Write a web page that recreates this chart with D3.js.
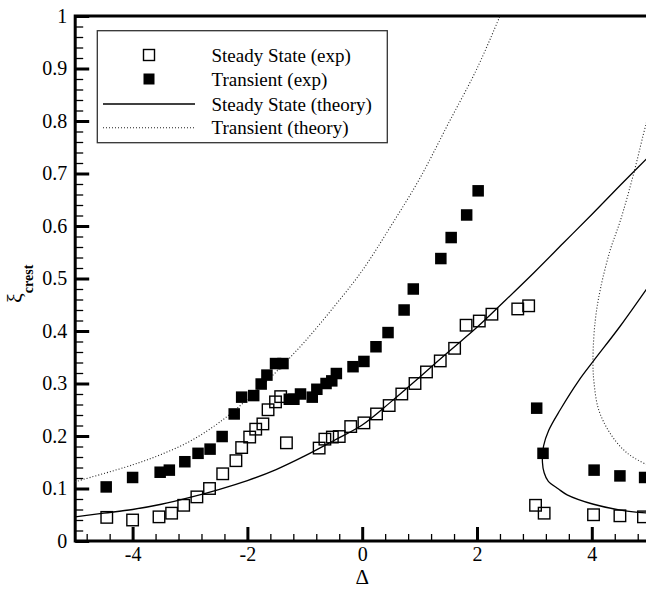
<!DOCTYPE html>
<html><head><meta charset="utf-8">
<script src="https://cdn.jsdelivr.net/npm/d3@7/dist/d3.min.js"></script>
<style>
body{margin:0;background:#fff}
svg{display:block}
text{font-family:"Liberation Serif","Times New Roman",Times,serif;fill:#000}
</style>
</head><body>
<svg id="chart" width="646" height="589"></svg>
<script>
// ---------- data ----------
const xMajorTicks = [-4, -2, 0, 2, 4];
const xTickLabels = ["-4", "-2", "0", "2", "4"];
const yMajorTicks = [0, 0.1, 0.2, 0.3, 0.4, 0.5, 0.6, 0.7, 0.8, 0.9, 1];
const yTickLabels = ["0", "0.1", "0.2", "0.3", "0.4", "0.5", "0.6", "0.7", "0.8", "0.9", "1"];

const seriesNames = ["Steady State (exp)", "Transient (exp)", "Steady State (theory)", "Transient (theory)"];

// Steady State (exp) - open squares
const steadyExpX = [-4.45, -4.0, -3.54, -3.32, -3.11, -2.88, -2.66, -2.43, -2.20, -2.10, -1.96, -1.855, -1.73, -1.64, -1.51, -1.42, -1.32,
  -0.75, -0.65, -0.52, -0.40, -0.20, 0.03, 0.25, 0.47, 0.69, 0.92, 1.12, 1.36, 1.61, 1.81, 2.04, 2.26, 2.71, 2.90,
  3.02, 3.17, 4.03, 4.49, 4.90];
const steadyExpY = [0.045, 0.040, 0.046, 0.053, 0.068, 0.084, 0.100, 0.128, 0.153, 0.178, 0.198, 0.213, 0.223, 0.250, 0.265, 0.275, 0.187,
  0.177, 0.194, 0.198, 0.199, 0.218, 0.225, 0.242, 0.258, 0.280, 0.300, 0.322, 0.343, 0.367, 0.411, 0.419, 0.432, 0.442, 0.448,
  0.068, 0.053, 0.050, 0.048, 0.046];

// Transient (exp) - filled squares
const transExpX = [-4.46, -4.0, -3.52, -3.36, -3.09, -2.86, -2.65, -2.44, -2.23, -2.10, -1.89, -1.76, -1.66, -1.51, -1.38,
  -1.27, -1.19, -1.075, -0.87, -0.79, -0.63, -0.53, -0.45, -0.16, 0.03, 0.24, 0.45, 0.73, 0.89, 1.37, 1.55, 1.82, 2.02,
  3.04, 3.15, 4.04, 4.49, 4.92];
const transExpY = [0.103, 0.121, 0.131, 0.135, 0.151, 0.167, 0.175, 0.199, 0.242, 0.274, 0.277, 0.299, 0.316, 0.338, 0.338,
  0.270, 0.270, 0.280, 0.274, 0.289, 0.300, 0.305, 0.319, 0.332, 0.342, 0.370, 0.397, 0.440, 0.480, 0.538, 0.578, 0.621, 0.667,
  0.253, 0.167, 0.135, 0.124, 0.121];

// Steady State (theory) - upper branch
const steadyThX = [-5.0, -4.5, -4.0, -3.5, -3.0, -2.5, -2.0, -1.5, -1.0, -0.5, 0.0, 0.5, 1.0, 1.5, 2.0, 2.5, 3.0, 3.5, 4.0, 4.5, 5.0];
const steadyThY = [0.046, 0.053, 0.060, 0.070, 0.083, 0.098, 0.115, 0.136, 0.162, 0.191, 0.221, 0.265, 0.312, 0.360, 0.407, 0.459, 0.512, 0.567, 0.622, 0.678, 0.733];
// Steady State (theory) - folded branch (ordered along the curve)
const steadyFoldX = [5.0, 4.5, 4.03, 3.77, 3.45, 3.25, 3.16, 3.14, 3.17, 3.24, 3.42, 3.57, 4.03, 4.5, 5.0];
const steadyFoldY = [0.487, 0.410, 0.343, 0.305, 0.250, 0.211, 0.181, 0.150, 0.130, 0.114, 0.099, 0.088, 0.070, 0.059, 0.053];

// Transient (theory) - left branch
const transThX = [-5.0, -4.0, -3.5, -3.0, -2.5, -2.0, -1.5, -1.0, -0.5, 0.0, 0.5, 1.0, 1.5, 2.0, 2.4];
const transThY = [0.113, 0.145, 0.165, 0.190, 0.225, 0.270, 0.322, 0.380, 0.445, 0.515, 0.600, 0.690, 0.795, 0.900, 1.0];
// Transient (theory) - folded branch (ordered along the curve)
const transFoldX = [5.05, 4.95, 4.73, 4.50, 4.32, 4.15, 4.06, 4.02, 4.04, 4.12, 4.32, 4.61, 4.95, 5.05];
const transFoldY = [0.830, 0.796, 0.700, 0.611, 0.554, 0.480, 0.420, 0.345, 0.300, 0.250, 0.205, 0.168, 0.146, 0.142];

// ---------- layout ----------
const svg = d3.select("#chart");
const L = 75.2, R = 649.2, T = 16, B = 541;
const x = d3.scaleLinear().domain([-5, 5]).range([L, R]);
const y = d3.scaleLinear().domain([0, 1]).range([B, T]);

svg.append("defs").append("clipPath").attr("id", "plotclip")
  .append("rect").attr("x", L).attr("y", T).attr("width", R - L).attr("height", B - T);

// minor ticks
const xMinor = d3.range(-4.8, 5.0, 0.4).filter(v => Math.abs(v / 2 - Math.round(v / 2)) > 0.01);
const yMinor = d3.range(0.02, 1.0, 0.02).filter(v => Math.abs(v * 10 - Math.round(v * 10)) > 0.01);

const gxMinor = svg.append("g").attr("transform", `translate(0,${B})`)
  .call(d3.axisBottom(x).tickValues(xMinor).tickSize(-7).tickFormat(""));
const gyMinor = svg.append("g").attr("transform", `translate(${L},0)`)
  .call(d3.axisLeft(y).tickValues(yMinor).tickSize(-8).tickFormat(""));
[gxMinor, gyMinor].forEach(g => {
  g.select(".domain").remove();
  g.selectAll(".tick line").attr("stroke", "#000").attr("stroke-width", 1.3);
});

const gx = svg.append("g").attr("transform", `translate(0,${B})`)
  .call(d3.axisBottom(x).tickValues(xMajorTicks).tickSize(-14).tickPadding(6)
    .tickFormat((d, i) => xTickLabels[i]));
const gy = svg.append("g").attr("transform", `translate(${L},0)`)
  .call(d3.axisLeft(y).tickValues(yMajorTicks).tickSize(-14).tickPadding(8)
    .tickFormat((d, i) => yTickLabels[i]));
[gx, gy].forEach(g => {
  g.select(".domain").remove();
  g.selectAll(".tick line").attr("stroke", "#000").attr("stroke-width", 3);
  g.selectAll(".tick text").attr("font-family", "Liberation Serif, Times New Roman, serif")
    .attr("font-size", 20).attr("fill", "#000");
});

// frame
svg.append("rect").attr("x", L).attr("y", T).attr("width", R - L).attr("height", B - T)
  .attr("fill", "none").attr("stroke", "#000").attr("stroke-width", 3);

// ---------- curves ----------
const line = d3.line().x(d => x(d[0])).y(d => y(d[1])).curve(d3.curveCatmullRom.alpha(0.5));
const plot = svg.append("g").attr("clip-path", "url(#plotclip)");
const zip = (a, b) => a.map((v, i) => [v, b[i]]);

[[steadyThX, steadyThY], [steadyFoldX, steadyFoldY]].forEach(([a, b]) => {
  plot.append("path").attr("d", line(zip(a, b))).attr("fill", "none")
    .attr("stroke", "#000").attr("stroke-width", 1.3);
});
[[transThX, transThY], [transFoldX, transFoldY]].forEach(([a, b]) => {
  plot.append("path").attr("d", line(zip(a, b))).attr("fill", "none")
    .attr("stroke", "#222").attr("stroke-width", 1.1).attr("stroke-dasharray", "1,2");
});

// ---------- markers ----------
const S = 11.5;
plot.append("g").selectAll("rect").data(zip(steadyExpX, steadyExpY)).join("rect")
  .attr("x", d => x(d[0]) - S / 2).attr("y", d => y(d[1]) - S / 2)
  .attr("width", S).attr("height", S)
  .attr("fill", "none").attr("stroke", "#000").attr("stroke-width", 1.4);
plot.append("g").selectAll("rect").data(zip(transExpX, transExpY)).join("rect")
  .attr("x", d => x(d[0]) - S / 2).attr("y", d => y(d[1]) - S / 2)
  .attr("width", S).attr("height", S)
  .attr("fill", "#000");

// ---------- legend ----------
const lg = svg.append("g");
lg.append("rect").attr("x", 97.3).attr("y", 30.7).attr("width", 290).attr("height", 112)
  .attr("fill", "#fff").attr("stroke", "#333").attr("stroke-width", 1.3);
const rowsY = [55, 79, 104, 127.7];
lg.append("rect").attr("x", 149 - 5.5).attr("y", rowsY[0] - 5.5).attr("width", 11).attr("height", 11)
  .attr("fill", "#fff").attr("stroke", "#000").attr("stroke-width", 1.4);
lg.append("rect").attr("x", 149 - 5.5).attr("y", rowsY[1] - 5.5).attr("width", 11).attr("height", 11)
  .attr("fill", "#000");
lg.append("line").attr("x1", 103).attr("x2", 195).attr("y1", rowsY[2]).attr("y2", rowsY[2])
  .attr("stroke", "#000").attr("stroke-width", 1.3);
lg.append("line").attr("x1", 103).attr("x2", 195).attr("y1", rowsY[3]).attr("y2", rowsY[3])
  .attr("stroke", "#222").attr("stroke-width", 1.1).attr("stroke-dasharray", "1,2");
seriesNames.forEach((n, i) => {
  lg.append("text").attr("x", 211.5).attr("y", rowsY[i] + 6.5).attr("font-size", 19).text(n);
});

// ---------- axis titles ----------
svg.append("text").attr("x", (L + R) / 2).attr("y", 584).attr("text-anchor", "middle")
  .attr("font-size", 21).text("Δ");
const yt = svg.append("text").attr("transform", "translate(22,303) rotate(-90)");
yt.append("tspan").attr("font-size", 22).text("ξ");
yt.append("tspan").attr("font-size", 14).attr("font-weight", "bold").attr("dy", 11).text("crest");
</script>
</body></html>
